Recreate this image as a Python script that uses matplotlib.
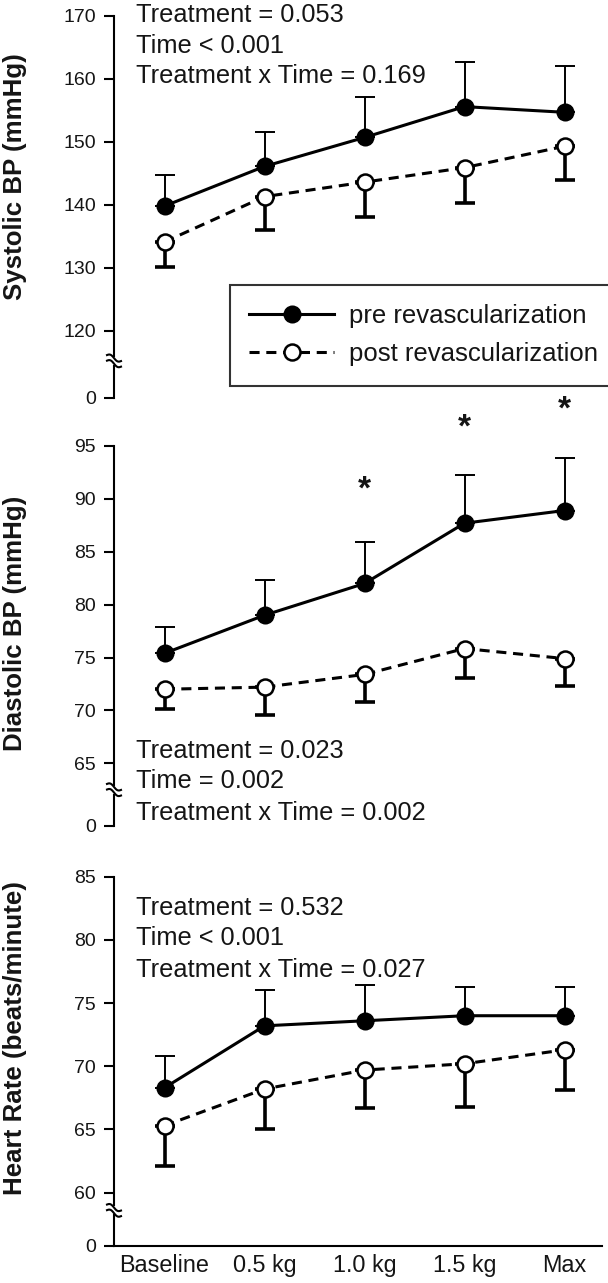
import numpy as np
import matplotlib
matplotlib.use("Agg")
import matplotlib.pyplot as plt

plt.rcParams['font.family'] = ['Liberation Sans', 'DejaVu Sans']

# ---------------- data ----------------
categories = ['Baseline', '0.5 kg', '1.0 kg', '1.5 kg', 'Max']

sys_pre = [139.8, 146.1, 150.7, 155.6, 154.7]
sys_pre_upper = [144.8, 151.6, 157.2, 162.7, 162.0]
sys_post = [134.1, 141.3, 143.6, 145.9, 149.3]
sys_post_lower = [130.1, 136.0, 138.0, 140.3, 144.0]

dia_pre = [75.4, 79.0, 82.0, 87.7, 88.9]
dia_pre_upper = [77.9, 82.3, 85.9, 92.3, 93.9]
dia_post = [72.0, 72.2, 73.4, 75.85, 74.9]
dia_post_lower = [70.1, 69.6, 70.8, 73.1, 72.3]

hr_pre = [68.3, 73.2, 73.6, 74.0, 74.0]
hr_pre_upper = [70.85, 76.0, 76.4, 76.3, 76.3]
hr_post = [65.3, 68.2, 69.7, 70.2, 71.3]
hr_post_lower = [62.1, 65.0, 66.7, 66.8, 68.1]

sys_ticks = [120, 130, 140, 150, 160, 170]
dia_ticks = [65, 70, 75, 80, 85, 90, 95]
hr_ticks = [60, 65, 70, 75, 80, 85]

sys_stats = ['Treatment = 0.053', 'Time < 0.001', 'Treatment x Time = 0.169']
dia_stats = ['Treatment = 0.023', 'Time = 0.002', 'Treatment x Time = 0.002']
hr_stats = ['Treatment = 0.532', 'Time < 0.001', 'Treatment x Time = 0.027']

star_cats = ['1.0 kg', '1.5 kg', 'Max']
star_y = [90.8, 96.7, 98.4]

labels = ['pre revascularization', 'post revascularization']

# ---------------- layout ----------------
W, H = 608, 1283
fig = plt.figure(figsize=(W / 100, H / 100), dpi=100)

ax_left = 114 / W
ax_w = (602 - 114) / W


def make_ax(top_px, bot_px):
    return fig.add_axes([ax_left, 1 - bot_px / H, ax_w, (bot_px - top_px) / H])


ax1 = make_ax(16, 398)
ax2 = make_ax(446, 826)
ax3 = make_ax(876.7, 1246)

x = np.arange(len(categories))
lw_line = 2.2
dash = [3.3, 2.2]
ms = 11.5
TXT = '#151515'


def panel(ax, pre, pre_up, post, post_lo, ticks, zero_val, top_val, brk_val, stats, stat_y, show_x):
    pre = np.array(pre); post = np.array(post)
    pre_err = np.array(pre_up) - pre
    post_err = post - np.array(post_lo)
    ax.errorbar(x, pre, yerr=[np.zeros_like(pre), pre_err], fmt='none',
                ecolor='black', elinewidth=1.4, capsize=7.5, capthick=1.4, zorder=2)
    ax.errorbar(x, post, yerr=[post_err, np.zeros_like(post)], fmt='none',
                ecolor='black', elinewidth=2.6, capsize=7.5, capthick=2.6, zorder=2)
    ax.plot(x, pre, '-', color='black', lw=lw_line, marker='o', ms=ms,
            mfc='black', mec='black', mew=1.5, zorder=4, label=labels[0])
    l2, = ax.plot(x, post, '--', color='black', lw=lw_line, marker='o', ms=ms,
                  mfc='white', mec='black', mew=1.8, zorder=3, label=labels[1])
    l2.set_dashes(dash)

    ax.set_xlim(-0.505, 4.375)
    ax.set_ylim(zero_val, top_val)
    ax.set_yticks([zero_val] + ticks)
    ax.set_yticklabels(['0'] + [str(t) for t in ticks])
    ax.tick_params(axis='y', direction='out', length=7, width=1.5, labelsize=14, pad=6,
                   colors='black', labelcolor=TXT)
    for s in ['top', 'right']:
        ax.spines[s].set_visible(False)
    ax.spines['left'].set_linewidth(1.5)
    if show_x:
        ax.spines['bottom'].set_linewidth(1.5)
        ax.set_xticks(x)
        ax.set_xticklabels(categories)
        ax.tick_params(axis='x', length=0, labelsize=16.8, pad=6, labelcolor=TXT)
    else:
        ax.spines['bottom'].set_visible(False)
        ax.set_xticks([])
    ax.patch.set_alpha(0)

    # axis break marks
    tr = ax.get_yaxis_transform()
    yr = top_val - zero_val
    h_px = ax.get_position().height * H
    u = yr / h_px  # data units per pixel
    ax.plot([0, 0], [brk_val - 4 * u, brk_val + 4 * u], color='white', lw=4,
            transform=tr, clip_on=False, zorder=5, solid_capstyle='butt')
    t = np.linspace(-1, 1, 30)
    wx = t * 7 / (ax.get_position().width * W)
    for off in (-2.8, 2.8):
        wy = brk_val + (off - 3.0 * t - 1.8 * np.sin(np.pi * t)) * u
        ax.plot(wx, wy, color='black', lw=1.5, transform=tr, clip_on=False, zorder=6)

    for s_txt, sy in zip(stats, stat_y):
        ax.text(0.045, sy, s_txt, transform=ax.transAxes, fontsize=18.3, va='baseline',
                ha='left', color=TXT)


panel(ax1, sys_pre, sys_pre_upper, sys_post, sys_post_lower, sys_ticks,
      109.3, 170, 115.2, sys_stats, [0.985, 0.904, 0.824], False)
panel(ax2, dia_pre, dia_pre_upper, dia_post, dia_post_lower, dia_ticks,
      59.07, 95, 62.5, dia_stats, [0.178, 0.099, 0.016], False)
panel(ax3, hr_pre, hr_pre_upper, hr_post, hr_post_lower, hr_ticks,
      55.78, 85, 58.6, hr_stats, [0.896, 0.815, 0.729], True)

# significance stars
for c, sy in zip(star_cats, star_y):
    ax2.text(categories.index(c), sy, '*', fontsize=24, ha='center', va='center',
             clip_on=False, color=TXT, fontweight='bold')

# legend
leg = ax1.legend(loc='upper left', bbox_to_anchor=(0.2377, 0.2958), borderaxespad=0,
                 fontsize=18.5, frameon=True, fancybox=False, edgecolor='black',
                 handlelength=3.3, handletextpad=0.6, borderpad=0.75, labelspacing=0.55,
                 numpoints=1)
leg.get_frame().set_linewidth(1.5)
for t_ in leg.get_texts():
    t_.set_color(TXT)

# y labels
ylab = [('Systolic BP (mmHg)', 177), ('Diastolic BP (mmHg)', 623),
        ('Heart Rate (beats/minute)', 1038)]
for txt, yc in ylab:
    fig.text(15 / W, 1 - yc / H, txt, rotation=90, ha='center', va='center',
             fontsize=18.6, fontweight='bold', color=TXT)

fig.savefig('out.png', dpi=100)
